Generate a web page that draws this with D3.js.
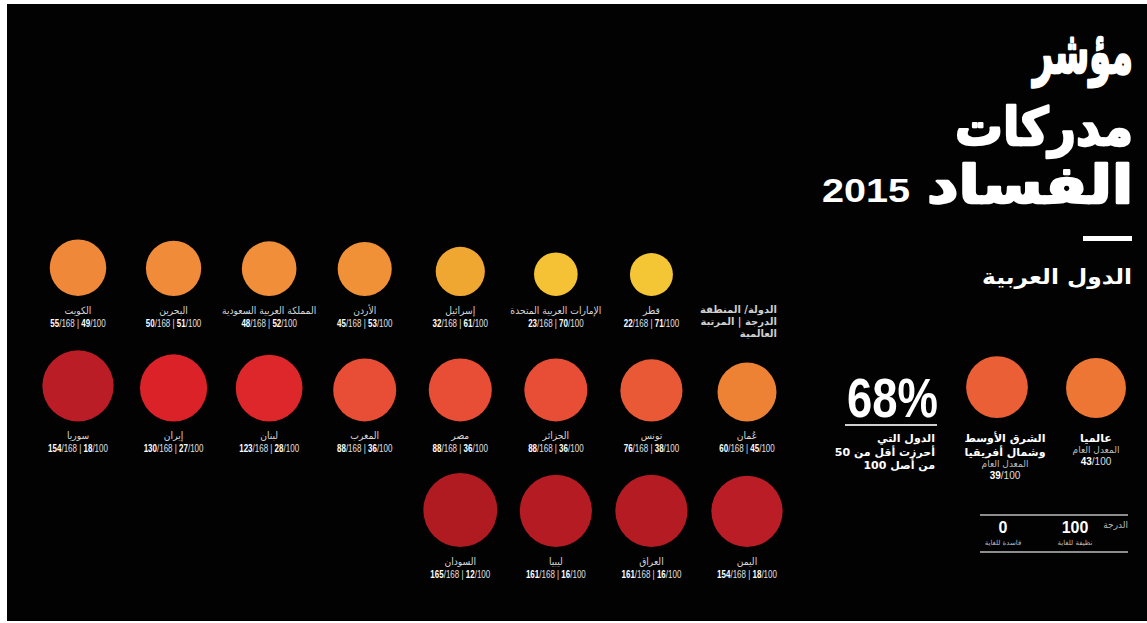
<!DOCTYPE html>
<html><head><meta charset="utf-8">
<script src="https://cdn.jsdelivr.net/npm/d3@7"></script>
<style>html,body{margin:0;padding:0;background:#fff;} svg{display:block}</style>
</head><body><svg id="c" width="1147" height="623"></svg>
<script>
// ---- data ----
const countries = ["قطر","الإمارات العربية المتحدة","إسرائيل","الأردن","المملكة العربية السعودية","البحرين","الكويت",
  "عُمان","تونس","الجزائر","مصر","المغرب","لبنان","إيران","سوريا",
  "اليمن","العراق","ليبيا","السودان"];
const ranks  = [22,23,32,45,48,50,55, 60,76,88,88,88,123,130,154, 154,161,161,165];
const scores = [71,70,61,53,52,51,49, 45,38,36,36,36,28,27,18, 18,16,16,12];
const rowSizes = [7, 8, 4];
const totalRanked = 168;
const avgNames = [["عالميا"], ["الشرق الأوسط","وشمال أفريقيا"]];
const avgScores = [43, 39];
const scaleEnds = [100, 0];
const scaleEndLabels = ["نظيفة للغاية", "فاسدة للغاية"];
const titleLines = ["مؤشر", "مدركات", "الفساد"];
const titleYear = "2015";
const subtitle = "الدول العربية";
const headerLines = ["الدولة/ المنطقة", "الدرجة | المرتبة", "العالمية"];
const shareText = "68%";
const shareLines = ["الدول التي", "أحرزت أقل من 50", "من أصل 100"];

// ---- layout ----
const svg = d3.select("#c");
svg.append("rect").attr("x",7).attr("y",4).attr("width",1140).attr("height",617).attr("fill","#020202");

const AR = "'DejaVu Sans','DejaVu Sans Condensed',sans-serif";
const NUM = "'Liberation Sans Narrow','Liberation Sans',Arial,sans-serif";

const col = d3.scalePoint().domain(d3.range(8)).range([747, 78]);
const rowBottom = d3.scalePoint().domain(d3.range(3)).range([296, 547]);
const r = d3.scaleLinear().domain([12, 45, 71]).range([37, 29.5, 21.5]);
const color = d3.scaleLinear()
  .domain([12,16,18,27,36,45,51,61,71])
  .range(["#b01a21","#b51b22","#ba1d25","#dc2229","#e84d36","#ee8234","#f08b3a","#f0a732","#f4c534"]);

const items = countries.map((c,i)=>{
  let row=0, k=i, start=[1,0,0];
  while(k >= rowSizes[row]) { k -= rowSizes[row]; row++; }
  return {name:c, rank:ranks[i], score:scores[i], row, col: k + start[row]};
});

const g = svg.append("g");
const node = g.selectAll("g.c").data(items).join("g").attr("class","c")
  .attr("transform", d=>`translate(${col(d.col)},${rowBottom(d.row)})`);
node.append("circle").attr("cy", d=>-r(d.score)).attr("r", d=>r(d.score)).attr("fill", d=>color(d.score));
node.append("text").attr("y",18).attr("text-anchor","middle").attr("direction","rtl")
  .attr("transform","scale(0.92,1)")
  .style("font-family",AR).style("font-size","10px").attr("fill","#d6d6d6").text(d=>d.name);
const nt = node.append("text").attr("y",31).attr("text-anchor","middle").attr("transform","scale(0.8,1)")
  .style("font-family",NUM).style("font-size","10px").attr("fill","#e0e0e0");
nt.append("tspan").attr("font-weight","bold").attr("fill","#fff").text(d=>d.rank);
nt.append("tspan").text(`/${totalRanked} | `);
nt.append("tspan").attr("font-weight","bold").attr("fill","#fff").text(d=>d.score);
nt.append("tspan").text("/100");

// header column
svg.append("g").selectAll("text").data(headerLines).join("text")
  .attr("x", 777).attr("y",(d,i)=>313+i*12).attr("direction","rtl").attr("text-anchor","start")
  .style("font-family",AR).style("font-size","10px").attr("font-weight","bold").attr("fill","#cfcfcf").text(d=>d);

// title
const titleY = [73, 145, 203];
const titleFs = [60, 52, 52];
const titleW = [100, 178, 206];
titleLines.forEach((t,i)=>{
  svg.append("text").attr("x",1133).attr("y",titleY[i]).attr("direction","rtl").attr("text-anchor","start")
    .style("font-family",AR).style("font-size",titleFs[i]+"px").attr("font-weight","bold")
    .attr("fill","#fff").attr("stroke","#fff").attr("stroke-width",2.4).attr("stroke-linejoin","round")
    .attr("textLength", titleW[i]).attr("lengthAdjust","spacingAndGlyphs").text(t);
});
svg.append("text").attr("x",910).attr("y",202).attr("text-anchor","end")
  .style("font-family",NUM).style("font-size","34px").attr("font-weight","bold").attr("fill","#fff")
  .attr("textLength",88).attr("lengthAdjust","spacingAndGlyphs").text(titleYear);
svg.append("rect").attr("x",1083).attr("y",236).attr("width",49).attr("height",5).attr("fill","#fff");
svg.append("text").attr("x",1132).attr("y",284).attr("direction","rtl").attr("text-anchor","start")
  .style("font-family",AR).style("font-size","21px").attr("font-weight","bold").attr("fill","#fff")
  .attr("textLength",150).attr("lengthAdjust","spacingAndGlyphs").text(subtitle);

// averages
const avgX = [1096, 997];
const ag = svg.append("g").selectAll("g").data(avgScores).join("g")
  .attr("transform",(d,i)=>`translate(${avgX[i]},418)`);
ag.append("circle").attr("cy",d=>-r(d)).attr("r",d=>r(d)).attr("fill",d=>color(d));
ag.each(function(d,i){
  const s = d3.select(this);
  const names = avgNames[i];
  const tx = i===0 ? 0 : 8;
  names.forEach((n,j)=>{
    s.append("text").attr("x",tx).attr("y",24+j*14).attr("direction","rtl").attr("text-anchor","middle")
      .style("font-family",AR).style("font-size","11px").attr("font-weight","bold").attr("fill","#fff").text(n);
  });
  const y0 = 24 + names.length*14 - 3;
  s.append("text").attr("x",tx).attr("y",y0).attr("direction","rtl").attr("text-anchor","middle")
    .style("font-family",AR).style("font-size","9px").attr("fill","#bdbdbd").text("المعدل العام");
  const t = s.append("text").attr("x",tx).attr("y",y0+12).attr("text-anchor","middle")
    .style("font-family",NUM).style("font-size","10px").attr("fill","#ddd");
  t.append("tspan").attr("font-weight","bold").attr("fill","#fff").text(d);
  t.append("tspan").text("/100");
});

// 68%
svg.append("text").attr("x",938).attr("y",417).attr("text-anchor","end")
  .style("font-family",NUM).style("font-size","56px").attr("font-weight","bold").attr("fill","#fff")
  .attr("textLength",91).attr("lengthAdjust","spacingAndGlyphs").text(shareText);
svg.append("line").attr("x1",845).attr("x2",937).attr("y1",425).attr("y2",425).attr("stroke","#cfcfcf").attr("stroke-width",2);
svg.append("g").selectAll("text").data(shareLines).join("text")
  .attr("x",935).attr("y",(d,i)=>442+i*13.5).attr("direction","rtl").attr("text-anchor","start")
  .style("font-family",AR).style("font-size","11px").attr("font-weight","bold").attr("fill","#fff").text(d=>d);

// scale legend
const lg = svg.append("g");
[515,552].forEach(y=> lg.append("line").attr("x1",980).attr("x2",1128).attr("y1",y).attr("y2",y).attr("stroke","#bdbdbd").attr("stroke-width",1.5));
lg.append("text").attr("x",1128).attr("y",528).attr("direction","rtl").attr("text-anchor","start")
  .style("font-family",AR).style("font-size","9px").attr("fill","#bdbdbd").text("الدرجة");
const endX = d3.scaleLinear().domain([0,100]).range([1003,1075]);
const eg = lg.selectAll("g").data(scaleEnds).join("g").attr("transform",d=>`translate(${endX(d)},0)`);
eg.append("text").attr("y",533).attr("text-anchor","middle")
  .style("font-family",NUM).style("font-size","16px").attr("font-weight","bold").attr("fill","#fff").text(d=>d);
eg.append("text").attr("y",545).attr("direction","rtl").attr("text-anchor","middle")
  .style("font-family",AR).style("font-size","7px").attr("fill","#bdbdbd").text((d,i)=>scaleEndLabels[i]);
</script></body></html>
